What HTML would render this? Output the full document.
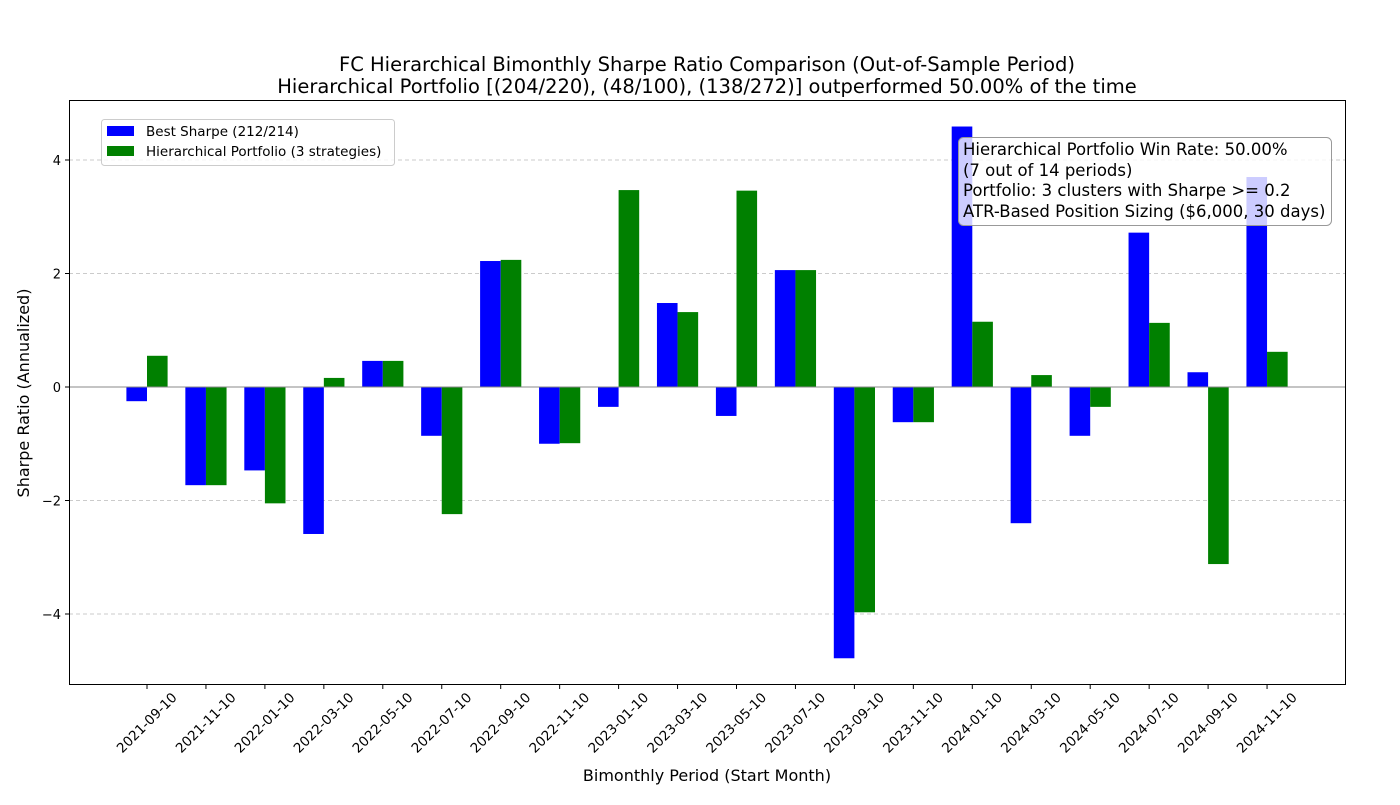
<!DOCTYPE html>
<html><head><meta charset="utf-8"><style>
body{margin:0;background:#fff;}
svg text{font-family:"DejaVu Sans","Liberation Sans",sans-serif;}
</style></head><body>
<svg id="chart" width="1400" height="800" xmlns="http://www.w3.org/2000/svg">
<text x="707" y="71" font-size="19.5" text-anchor="middle">FC Hierarchical Bimonthly Sharpe Ratio Comparison (Out-of-Sample Period)</text>
<text x="707" y="93" font-size="19.5" text-anchor="middle">Hierarchical Portfolio [(204/220), (48/100), (138/272)] outperformed 50.00% of the time</text>
<g id="grid"></g><g id="bars"></g><g id="axes"></g>
<text x="707" y="781" font-size="16" text-anchor="middle">Bimonthly Period (Start Month)</text>
<text transform="translate(29,393) rotate(-90)" font-size="16" text-anchor="middle">Sharpe Ratio (Annualized)</text>
<g>
<rect x="101.5" y="119.5" width="293" height="46" rx="3" fill="#fff" fill-opacity="0.8" stroke="#ccc"/>
<rect x="107" y="126" width="27" height="10" fill="#0000ff"/>
<text x="146" y="136" font-size="13.5">Best Sharpe (212/214)</text>
<rect x="107" y="146" width="27" height="10" fill="#008000"/>
<text x="146" y="156" font-size="13.5">Hierarchical Portfolio (3 strategies)</text>
</g>
<g>
<rect x="958.5" y="137.5" width="373" height="88" rx="5" fill="#fff" fill-opacity="0.8" stroke="#999"/>
<text x="963" y="155" font-size="16.5">Hierarchical Portfolio Win Rate: 50.00%</text>
<text x="963" y="176" font-size="16.5">(7 out of 14 periods)</text>
<text x="963" y="196" font-size="16.5">Portfolio: 3 clusters with Sharpe &gt;= 0.2</text>
<text x="963" y="217" font-size="16.5">ATR-Based Position Sizing ($6,000, 30 days)</text>
</g>
</svg>
<script>
const categories=["2021-09-10","2021-11-10","2022-01-10","2022-03-10","2022-05-10","2022-07-10","2022-09-10","2022-11-10","2023-01-10","2023-03-10","2023-05-10","2023-07-10","2023-09-10","2023-11-10","2024-01-10","2024-03-10","2024-05-10","2024-07-10","2024-09-10","2024-11-10"];
const bestSharpe=[-0.25,-1.73,-1.47,-2.59,0.46,-0.86,2.22,-1.0,-0.35,1.48,-0.51,2.06,-4.78,-0.62,4.59,-2.4,-0.86,2.72,0.26,3.7];
const hierSharpe=[0.55,-1.73,-2.05,0.16,0.46,-2.24,2.24,-0.99,3.47,1.32,3.46,2.06,-3.97,-0.62,1.15,0.21,-0.35,1.13,-3.12,0.62];
const yTicks=[-4,-2,0,2,4];
const NS="http://www.w3.org/2000/svg";
const L=69,R=1346,T=100,B=685;
const y=v=>387-v*56.75;
const x=i=>147+i*58.95;
const bw=20.6;
function mk(tag,attrs,parent){const e=document.createElementNS(NS,tag);for(const k in attrs)e.setAttribute(k,attrs[k]);parent.appendChild(e);return e;}
const grid=document.getElementById('grid'),bars=document.getElementById('bars'),axes=document.getElementById('axes');
yTicks.forEach(t=>{
 const g=mk('line',{x1:L,x2:R,y1:y(t),y2:y(t),stroke:'#bbb','stroke-dasharray':'4,3','stroke-width':0.8},grid);
 
 
 mk('line',{x1:L-4,x2:L,y1:y(t),y2:y(t),stroke:'#000'},axes);
 const tx=mk('text',{x:L-8,y:y(t)+5,'font-size':13,'text-anchor':'end'},axes);
 tx.textContent=(t<0?'\u2212'+(-t):t);
 
 
});
categories.forEach((c,i)=>{
 const b=bestSharpe[i],h=hierSharpe[i];
 const r1=mk('rect',{x:x(i)-bw,y:Math.min(y(b),y(0)),width:bw,height:Math.abs(y(b)-y(0)),fill:'#0000ff'},bars);
 
 
 const r2=mk('rect',{x:x(i),y:Math.min(y(h),y(0)),width:bw,height:Math.abs(y(h)-y(0)),fill:'#008000'},bars);
 
 
 mk('line',{x1:x(i),x2:x(i),y1:B,y2:B+4,stroke:'#000'},axes);
 const tx=mk('text',{'font-size':13.5,'text-anchor':'middle',transform:`translate(${x(i)+3},${B+41}) rotate(-45)`},axes);
 tx.textContent=c;
 
 
});
mk('line',{x1:L,x2:R,y1:y(0),y2:y(0),stroke:'#888','stroke-width':1},axes);
const fr=mk('rect',{x:L+0.5,y:T+0.5,width:R-L-1,height:B-T-1,fill:'none',stroke:'#000'},axes);


</script>
</body></html>
